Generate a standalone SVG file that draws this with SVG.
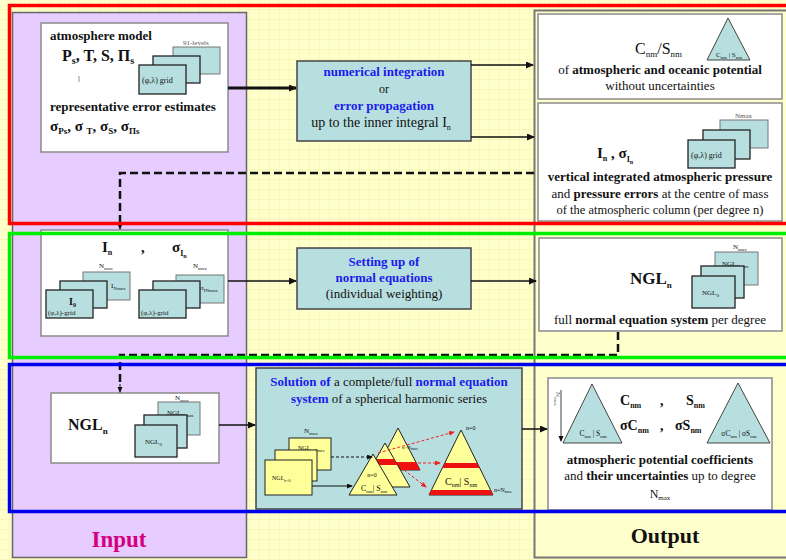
<svg xmlns="http://www.w3.org/2000/svg" width="786" height="560" viewBox="0 0 786 560">
<defs>
<pattern id="grid" width="10" height="10" patternUnits="userSpaceOnUse">
<rect width="10" height="10" fill="#ffffcc"/>
<path d="M10 0V10M0 10H10" stroke="#ecec9e" stroke-width="0.8" fill="none"/>
</pattern>
<marker id="ah" markerWidth="8" markerHeight="8" refX="7" refY="3.5" orient="auto" markerUnits="userSpaceOnUse">
<path d="M0,0 L8,3.5 L0,7 z" fill="#111"/>
</marker>
<marker id="ahs" markerWidth="6" markerHeight="6" refX="5" refY="2.5" orient="auto" markerUnits="userSpaceOnUse">
<path d="M0,0 L6,2.5 L0,5 z" fill="#111"/>
</marker>
<marker id="ahr" markerWidth="6" markerHeight="6" refX="5" refY="2.5" orient="auto" markerUnits="userSpaceOnUse">
<path d="M0,0 L6,2.5 L0,5 z" fill="#ee2222"/>
</marker>
<style>
text{font-family:"Liberation Serif","Times New Roman",serif;fill:#111}
.b{font-weight:bold}
.bl{fill:#1a1aee;font-weight:bold}
.gr{fill:#555}
.wbox{fill:#fff;stroke:#8a8a8a;stroke-width:1.5}
.proc{fill:#b8dfe0;stroke:#444;stroke-width:1.5}
.card{fill:#b8dfe0;stroke:#222;stroke-width:1.3}
.cardb{fill:#b8dfe0;stroke:#777;stroke-width:1}
.yc{fill:#ffff99;stroke:#222;stroke-width:1}
.tri{fill:#ffff99;stroke:#222;stroke-width:1}
.ctri{fill:#b8dfe0;stroke:#444;stroke-width:1}
.red{fill:#ee1111}
.c{stroke:#111;fill:none;stroke-width:1.5}
.dash{stroke:#111;fill:none;stroke-width:2.5;stroke-dasharray:8 4}
.rd{stroke:#ee2222;fill:none;stroke-width:1;stroke-dasharray:3 2}
</style>
</defs>
<rect width="786" height="560" fill="url(#grid)"/>
<g id="input-column">
<rect x="12.5" y="12.5" width="234" height="545" fill="#e6ccff" stroke="#666" stroke-width="1.5"/>
<text x="119" y="547" text-anchor="middle" font-size="23" class="b" style="fill:#d4007f">Input</text>
</g>
<g id="output-column">
<rect x="534.5" y="10.5" width="260" height="547" fill="#ffffcc" stroke="#777" stroke-width="2"/>
<text x="665" y="543" text-anchor="middle" font-size="22" class="b">Output</text>
</g>

<g id="atmosphere-model">
<rect class="wbox" x="41" y="23" width="187" height="129"/>
<text x="50" y="40" font-size="13" class="b">atmosphere model</text>
<text x="62" y="61" font-size="16" class="b">P<tspan font-size="10" dy="3">s</tspan><tspan dy="-3">, T, S, Π</tspan><tspan font-size="10" dy="3">s</tspan></text>
<line x1="79" y1="76" x2="79" y2="82" stroke="#777" stroke-width="0.8"/>
<text x="183" y="45" font-size="7" class="gr">91-levels</text>
<rect class="cardb" x="173" y="47" width="47" height="27"/>
<rect class="card" x="153" y="56" width="47" height="27"/>
<rect class="card" x="139" y="65" width="47" height="29"/>
<text x="142" y="83" font-size="8">(φ,λ) grid</text>
<text x="50" y="111" font-size="13" class="b">representative error estimates</text>
<text x="50" y="131" font-size="15" class="b">σ<tspan font-size="9" dy="3">Ps</tspan><tspan dy="-3">, σ </tspan><tspan font-size="9" dy="3">T</tspan><tspan dy="-3">, σ</tspan><tspan font-size="9" dy="3">S</tspan><tspan dy="-3">, σ</tspan><tspan font-size="9" dy="3">Πs</tspan></text>
</g>

<g id="numerical-integration">
<rect class="proc" x="297" y="61" width="174" height="80"/>
<text x="384" y="76" font-size="13" text-anchor="middle" class="bl">numerical integration</text>
<text x="384" y="93" font-size="12" text-anchor="middle">or</text>
<text x="384" y="110" font-size="13" text-anchor="middle" class="bl">error propagation</text>
<text x="381" y="127" font-size="14" text-anchor="middle">up to the inner integral I<tspan font-size="8" dy="3">n</tspan></text>
</g>

<g id="output-potential">
<rect class="wbox" x="538" y="14" width="244" height="85"/>
<text x="635" y="54" font-size="16">C<tspan font-size="9" dy="3">nm</tspan><tspan dy="-3">/S</tspan><tspan font-size="9" dy="3">nm</tspan></text>
<polygon class="ctri" points="728,18 707,60 750,60"/>
<text x="729" y="57" font-size="7" text-anchor="middle">C<tspan font-size="5" dy="2">nm</tspan><tspan dy="-2"> | S</tspan><tspan font-size="5" dy="2">nm</tspan></text>
<text x="660" y="74" font-size="13" text-anchor="middle">of <tspan class="b">atmospheric and oceanic potential</tspan></text>
<text x="660" y="90" font-size="13" text-anchor="middle">without uncertainties</text>
</g>

<g id="output-pressure">
<rect class="wbox" x="538" y="103" width="244" height="118"/>
<text x="597" y="158" font-size="15" class="b">I<tspan font-size="8" dy="3">n</tspan><tspan dy="-3">  , σ</tspan><tspan font-size="8" dy="4">I</tspan><tspan font-size="6" dy="2">n</tspan></text>
<text x="735" y="118" font-size="7" class="gr">Nmax</text>
<rect class="cardb" x="720" y="120" width="48" height="28"/>
<rect class="card" x="703" y="130" width="47" height="29"/>
<rect class="card" x="688" y="140" width="47" height="28"/>
<text x="691" y="158" font-size="8">(φ,λ) grid</text>
<text x="660" y="181" font-size="13" text-anchor="middle" class="b">vertical integrated atmospheric pressure</text>
<text x="660" y="198" font-size="13" text-anchor="middle">and <tspan class="b">pressure errors</tspan> at the centre of mass</text>
<text x="660" y="214" font-size="12.5" text-anchor="middle">of the atmospheric column (per degree n)</text>
</g>

<g id="inner-integrals">
<rect class="wbox" x="41" y="230" width="187" height="106"/>
<text x="102" y="252" font-size="15" class="b">I<tspan font-size="8" dy="3">n</tspan></text>
<text x="141" y="252" font-size="15" class="b">,</text>
<text x="172" y="252" font-size="15" class="b">σ<tspan font-size="8" dy="4">I</tspan><tspan font-size="6" dy="2">n</tspan></text>
<text x="99" y="268" font-size="7">N<tspan font-size="5" dy="2">max</tspan></text>
<rect class="cardb" x="83" y="272" width="47" height="28"/>
<text x="111" y="288" font-size="7">I<tspan font-size="5" dy="2">Nmax</tspan></text>
<rect class="card" x="60" y="281" width="47" height="27"/>
<rect class="card" x="46" y="290" width="47" height="28"/>
<text x="69" y="305" font-size="10" class="b">I<tspan font-size="6" dy="2">0</tspan></text>
<text x="48" y="315" font-size="7">(φ,λ)-grid</text>
<text x="193" y="268" font-size="7">N<tspan font-size="5" dy="2">max</tspan></text>
<rect class="cardb" x="176" y="275" width="48" height="28"/>
<text x="200" y="290" font-size="7">σ<tspan font-size="5" dy="2">INmax</tspan></text>
<rect class="card" x="153" y="281" width="47" height="27"/>
<rect class="card" x="139" y="290" width="47" height="28"/>
<text x="141" y="315" font-size="7">(φ,λ)-grid</text>
</g>

<g id="normal-equations">
<rect class="proc" x="297" y="248" width="174" height="61"/>
<text x="384" y="266" font-size="13" text-anchor="middle" class="bl">Setting up of</text>
<text x="384" y="282" font-size="13" text-anchor="middle" class="bl">normal equations</text>
<text x="384" y="298" font-size="13" text-anchor="middle">(individual weighting)</text>
</g>

<g id="output-ngl">
<rect class="wbox" x="539" y="238" width="243" height="93"/>
<text x="630" y="284" font-size="17" class="b">NGL<tspan font-size="9" dy="4">n</tspan></text>
<text x="733" y="249" font-size="7">N<tspan font-size="5" dy="2">max</tspan></text>
<rect class="cardb" x="715" y="252" width="43" height="33"/>
<text x="722" y="266" font-size="7">NGL<tspan font-size="5" dy="2">Nmax</tspan></text>
<rect class="card" x="701" y="266" width="43" height="32"/>
<rect class="card" x="692" y="276" width="43" height="32"/>
<text x="702" y="295" font-size="7">NGL<tspan font-size="5" dy="2">0</tspan></text>
<text x="660" y="324" font-size="13" text-anchor="middle">full <tspan class="b">normal equation system</tspan> per degree</text>
</g>

<g id="ngl-input">
<rect class="wbox" x="51" y="393" width="168" height="70"/>
<text x="68" y="430" font-size="16" class="b">NGL<tspan font-size="9" dy="4">n</tspan></text>
<text x="175" y="400" font-size="7">N<tspan font-size="5" dy="2">max</tspan></text>
<rect class="cardb" x="158" y="402" width="42" height="33"/>
<text x="167" y="415" font-size="7">NGL<tspan font-size="5" dy="2">Nmax</tspan></text>
<rect class="card" x="144" y="415" width="43" height="33"/>
<rect class="card" x="135" y="425" width="42" height="32"/>
<text x="145" y="444" font-size="7">NGL<tspan font-size="5" dy="2">0</tspan></text>
</g>

<g id="solution">
<rect class="proc" x="256" y="368" width="266" height="141"/>
<text x="389" y="386" font-size="13" text-anchor="middle"><tspan class="bl">Solution of</tspan> a complete/full <tspan class="bl">normal equation</tspan></text>
<text x="389" y="403" font-size="13" text-anchor="middle"><tspan class="bl">system</tspan> of a spherical harmonic series</text>
<text x="304" y="433" font-size="7">N<tspan font-size="5" dy="2">max</tspan></text>
<rect class="yc" x="289" y="438" width="42" height="32"/>
<text x="298" y="450" font-size="6">NGL<tspan font-size="4" dy="2">n=Nmax</tspan></text>
<rect class="yc" x="275" y="450" width="42" height="31"/>
<rect class="yc" x="265" y="460" width="47" height="35"/>
<text x="272" y="480" font-size="6">NGL<tspan font-size="4" dy="2">n=0</tspan></text>
<polygon class="tri" points="398,428 376,470 420,470"/>
<polygon class="red" points="380.2,462 415.8,462 420,470 376,470"/>
<text x="402" y="449" font-size="5">n=N<tspan font-size="4" dy="1">max</tspan></text>
<polygon class="tri" points="385,443 360,487 410,487"/>
<polygon class="red" points="375.9,459 394.1,459 397.5,465 372.5,465"/>
<polygon class="tri" points="373,454 349,495 397,495"/>
<text x="372" y="477" font-size="6" text-anchor="middle">n=0</text>
<text x="374" y="491" font-size="8" text-anchor="middle">C<tspan font-size="5" dy="2">nm</tspan><tspan dy="-2">| S</tspan><tspan font-size="5" dy="2">nm</tspan></text>
<polygon class="tri" points="461,430 429,495 493,495"/>
<polygon class="red" points="444.8,463 477.2,463 479.7,468 442.3,468"/>
<polygon class="red" points="431.5,490 490.5,490 493,495 429,495"/>
<text x="461" y="485" font-size="10" text-anchor="middle">C<tspan font-size="6" dy="2">nm</tspan><tspan dy="-2">| S</tspan><tspan font-size="6" dy="2">nm</tspan></text>
<text x="466" y="430" font-size="6">n=0</text>
<text x="494" y="492" font-size="6">n=N<tspan font-size="4" dy="1">max</tspan></text>
<path class="rd" d="M378 453 L454 432" marker-end="url(#ahr)"/>
<path class="rd" d="M398 463 L440 463" marker-end="url(#ahr)"/>
<path class="rd" d="M404 470 L426 487" marker-end="url(#ahr)"/>
<path d="M331 457 L372 457" stroke="#111" stroke-width="1" stroke-dasharray="3 2" fill="none" marker-end="url(#ahs)"/>
<path d="M312 486 L352 486" stroke="#111" stroke-width="1" fill="none" marker-end="url(#ahs)"/>
</g>

<g id="output-coefficients">
<rect class="wbox" x="548" y="378" width="224" height="132"/>
<polygon class="ctri" points="592,384 563,443 622,443"/>
<text x="593" y="436" font-size="7.5" text-anchor="middle">C<tspan font-size="5" dy="2">nm</tspan><tspan dy="-2"> | S</tspan><tspan font-size="5" dy="2">nm</tspan></text>
<path d="M561 390 V441" stroke="#444" stroke-width="1" fill="none" marker-end="url(#ahs)"/>
<text transform="translate(556,392) rotate(90)" font-size="7" class="gr">N<tspan font-size="5" dy="2">max</tspan></text>
<text x="620" y="405" font-size="14" class="b">C<tspan font-size="8" dy="3">nm</tspan></text>
<text x="660" y="405" font-size="14" class="b">,</text>
<text x="686" y="405" font-size="14" class="b">S<tspan font-size="8" dy="3">nm</tspan></text>
<text x="620" y="430" font-size="14" class="b">σC<tspan font-size="8" dy="3">nm</tspan></text>
<text x="660" y="430" font-size="14" class="b">,</text>
<text x="675" y="430" font-size="14" class="b">σS<tspan font-size="8" dy="3">nm</tspan></text>
<polygon class="ctri" points="738,383 707,443 770,443"/>
<text x="739" y="436" font-size="7.5" text-anchor="middle">σC<tspan font-size="5" dy="2">nm</tspan><tspan dy="-2"> | σS</tspan><tspan font-size="5" dy="2">nm</tspan></text>
<text x="660" y="464" font-size="13" text-anchor="middle" class="b">atmospheric potential coefficients</text>
<text x="660" y="480" font-size="13" text-anchor="middle">and <tspan class="b">their uncertainties</tspan> up to degree</text>
<text x="660" y="498" font-size="12" text-anchor="middle">N<tspan font-size="7" dy="2">max</tspan></text>
</g>

<g id="connectors">
<path d="M228 88 H296" stroke="#111" stroke-width="2.8" fill="none" marker-end="url(#ah)"/>
<path class="c" d="M471 65 H533" marker-end="url(#ah)"/>
<path class="c" d="M471 137 H534" marker-end="url(#ah)"/>
<path class="dash" d="M534 173 H120 V224"/>
<path d="M120 222 V229" stroke="#111" stroke-width="1" marker-end="url(#ahs)"/>
<path class="c" d="M228 281 H296" marker-end="url(#ah)"/>
<path class="c" d="M471 281 H536" marker-end="url(#ah)"/>
<path class="dash" d="M618 332 V355 H120 V386"/>
<path d="M120 384 V392" stroke="#111" stroke-width="1" marker-end="url(#ahs)"/>
<path class="c" d="M219 425 H255" marker-end="url(#ah)"/>
<path class="c" d="M522 429 H547" marker-end="url(#ah)"/>
</g>

<g id="row-frames" fill="none" stroke-width="3.5">
<rect x="9.5" y="5.5" width="790" height="218" stroke="#ff0000"/>
<rect x="9.5" y="233.5" width="790" height="124" stroke="#00ee00"/>
<rect x="9.5" y="364.5" width="790" height="147" stroke="#0000ee"/>
</g>
</svg>
